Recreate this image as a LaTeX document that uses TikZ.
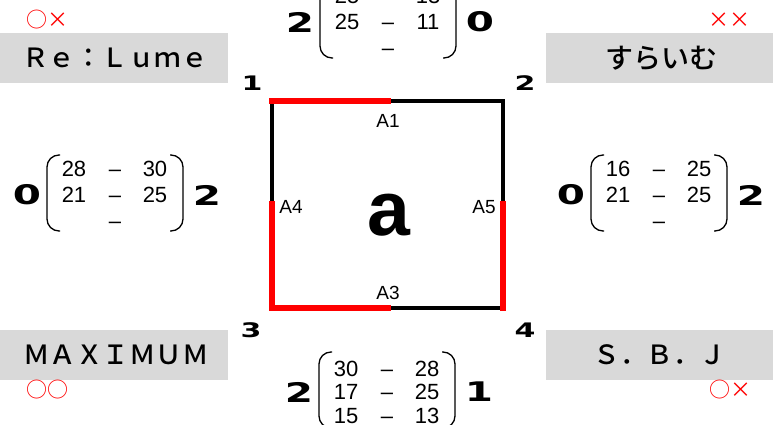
\documentclass[tikz,border=0pt]{standalone}
\usepackage{fontspec}
\usepackage{graphicx}
\setmainfont{Liberation Sans}
\newfontfamily\jpfont{Noto Sans CJK JP Medium}
\newfontfamily\jpthin{Noto Sans CJK JP}
\newfontfamily\heavyfont{DejaVu Sans}
\definecolor{boxgray}{HTML}{D9D9D9}
\definecolor{markred}{HTML}{FF0000}
\newcommand{\heavynum}[2][27]{\scalebox{1.5}[1]{\heavyfont\bfseries\fontsize{#1}{#1}\selectfont #2}}
\tikzset{
  graybox/.style={fill=boxgray,draw=none},
  boxtext/.style={font=\jpfont\fontsize{26.5}{26.5}\selectfont,inner sep=0pt},
  redmark/.style={font=\jpthin\fontsize{21}{21}\selectfont,text=markred,inner sep=0pt},
  entry/.style={font=\fontsize{22}{22}\selectfont,text height=15.8pt,text depth=0pt,inner sep=0pt},
  paren/.style={line width=1.3pt,rounded corners=12pt},
  heavy/.style={inner sep=0pt},
  corner/.style={inner sep=0pt},
  blackedge/.style={line width=3.5pt,draw=black,line join=miter},
  rededge/.style={line width=6pt,draw=markred,line cap=rect,line join=miter},
  alabel/.style={font=\fontsize{19}{19}\selectfont,inner sep=0pt},
}
% #1 name, #2 x0, #3 yc, #4 dy, #5 left num, #6 right num, #7 rows
\newcommand{\mymat}[7]{%
  \begin{scope}[shift={(#2,#3)}]
    \node[heavy] (#1-L) at (0,0) {\heavynum{#5}};
    \node[heavy] (#1-R) at (180,0) {\heavynum{#6}};
    \draw[paren] (33,-40) -- (20,-40) -- (20,36) -- (33,36);
    \draw[paren] (143,-40) -- (156,-40) -- (156,36) -- (143,36);
    \foreach \a/\b [count=\i] in {#7} {
      \node[entry] (#1-a\i) at (47,{(\i-2)*#4}) {\a};
      \node[entry] (#1-d\i) at (88,{(\i-2)*#4}) {–};
      \node[entry] (#1-b\i) at (128,{(\i-2)*#4}) {\b};
    }
  \end{scope}}
\begin{document}
\begin{tikzpicture}[x=1pt,y=-1pt]
\useasboundingbox (0,0) rectangle (773,425);
\fill[white] (0,0) rectangle (773,425);
% gray boxes
\fill[graybox] (0,33) rectangle (228,83);
\fill[graybox] (546,33) rectangle (773,83);
\fill[graybox] (0,330) rectangle (228,380);
\fill[graybox] (546,330) rectangle (773,380);
\node[boxtext] (tl) at (115,58) {Ｒｅ：Ｌｕｍｅ};
\node[boxtext,font=\jpfont\fontsize{28}{28}\selectfont] (tr) at (661,58) {すらいむ};
\node[boxtext] (bl) at (116,355) {ＭＡＸＩＭＵＭ};
\node[boxtext] (br) at (660,355) {Ｓ．Ｂ．Ｊ};
% red marks
\node[redmark] (mtl) at (48,20) {○×};
\node[redmark] (mtr) at (729,20) {××};
\node[redmark] (mbl) at (47,390) {○○};
\node[redmark] (mbr) at (730,390) {○×};
% square
\coordinate (c1) at (272,101);
\coordinate (c2) at (503,101);
\coordinate (c3) at (272,308);
\coordinate (c4) at (503,308);
\coordinate (mt) at (388,101);
\coordinate (mb) at (388,308);
\coordinate (ml) at (272,204);
\coordinate (mr) at (503,204);
\draw[blackedge] (c1) -- (c2) -- (c4) -- (c3) -- cycle;
\draw[rededge] (c1) -- (mt);
\draw[rededge] (ml) -- (c3) -- (mb);
\draw[rededge] (mr) -- (c4);
\node[alabel] (A1) at (388,121) {A1};
\node[alabel] (A3) at (388,293) {A3};
\node[alabel] (A4) at (291,207) {A4};
\node[alabel] (A5) at (484,207) {A5};
\node[inner sep=0pt,font=\bfseries\fontsize{77}{77}\selectfont] (a) at (389,215) {a};
% corner numbers
\node[corner] (n1) at (252,83) {\heavynum[20]{1}};
\node[corner] (n2) at (525,83) {\heavynum[20]{2}};
\node[corner] (n3) at (251,330) {\heavynum[20]{3}};
\node[corner] (n4) at (525,330) {\heavynum[20]{4}};
% matrices
\mymat{top}{300}{22}{26}{2}{0}{25/13,25/11,{}/{}}
\mymat{left}{27}{195}{26}{0}{2}{28/30,21/25,{}/{}}
\mymat{right}{571}{195}{26}{0}{2}{16/25,21/25,{}/{}}
\mymat{bot}{299}{392}{23.5}{2}{1}{30/28,17/25,15/13}
\end{tikzpicture}
\end{document}
